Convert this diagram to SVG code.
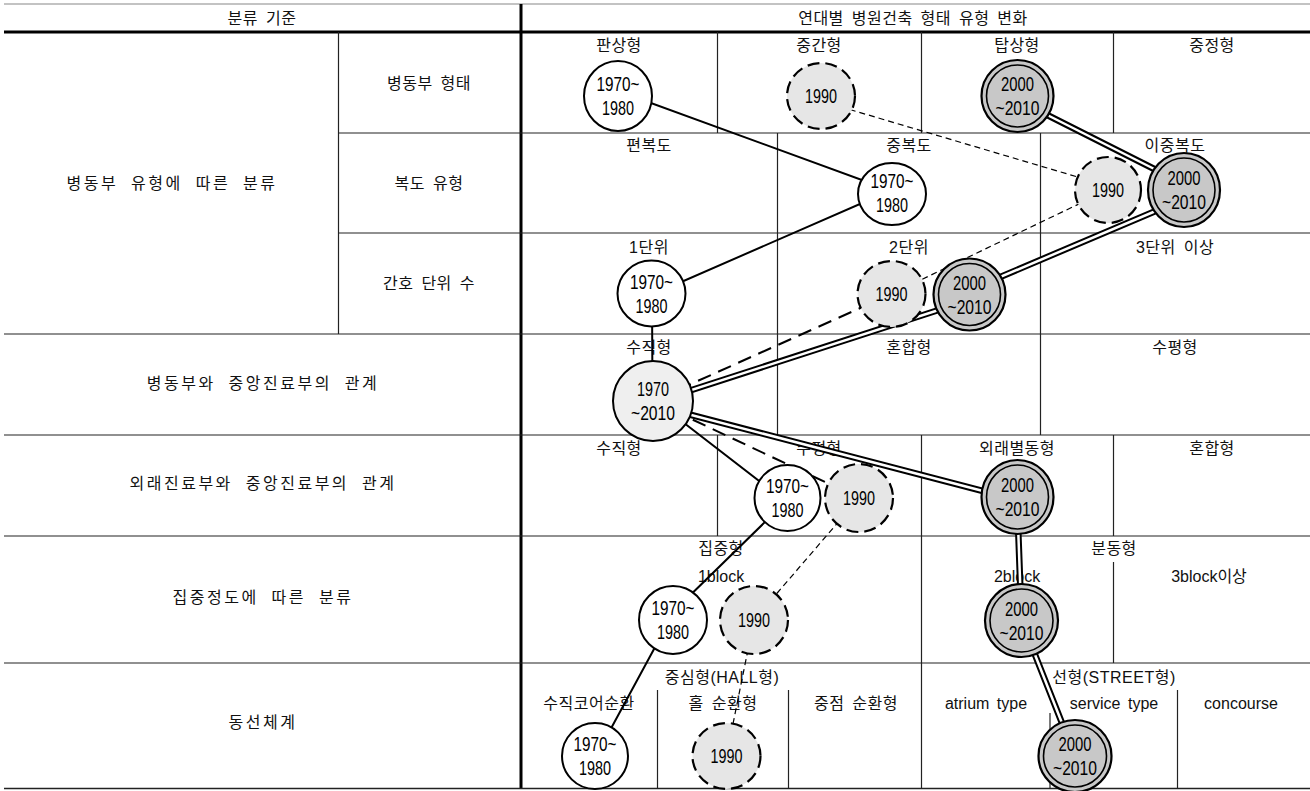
<svg xmlns="http://www.w3.org/2000/svg" width="1310" height="791" viewBox="0 0 1310 791">
<defs>
<style>
.ln{stroke:#222;stroke-width:1.2;fill:none}
.thk{stroke:#000;stroke-width:3;fill:none}
.top{stroke:#888;stroke-width:1.2;fill:none}
text{font-family:"Liberation Sans","Noto Sans CJK KR",sans-serif;fill:#111}
.lbl{font-size:16px;letter-spacing:0.5px;word-spacing:3px;text-anchor:middle}
.en{font-size:16px;letter-spacing:0;word-spacing:3px;text-anchor:middle}
.big{font-size:16px;letter-spacing:2.5px;word-spacing:6px;text-anchor:middle}
.num{font-size:20px;text-anchor:middle;fill:#000}
.solid{stroke:#000;stroke-width:2;fill:none}
.thin-dash{stroke:#000;stroke-width:1.2;stroke-dasharray:6 4;fill:none}
.thick-dash{stroke:#000;stroke-width:2;stroke-dasharray:14 8;fill:none}
.dbl-out{stroke:#000;stroke-width:6.5;fill:none}
.dbl-in{stroke:#fff;stroke-width:2.5;fill:none}
.n-white{fill:#fff;stroke:#000;stroke-width:2}
.n-dash{fill:#e6e6e6;stroke:#000;stroke-width:2.2;stroke-dasharray:12 6}
.n-mid{fill:#efefef;stroke:#000;stroke-width:2}
.n-dbl{fill:#c8c8c8;stroke:#000;stroke-width:2.2}
.n-dbl-in{fill:none;stroke:#000;stroke-width:1.6}
</style>
</defs>
<rect x="0" y="0" width="1310" height="791" fill="#fff"/>
<g id="grid">
<line class="top" x1="4" y1="4" x2="1310" y2="4"/>
<line class="thk" x1="4" y1="32" x2="1310" y2="32"/>
<line class="thk" x1="521" y1="4" x2="521" y2="789"/>
<line class="ln" x1="338.5" y1="32" x2="338.5" y2="334"/>
<line class="ln" x1="338.5" y1="133" x2="1310" y2="133"/>
<line class="ln" x1="338.5" y1="233" x2="1310" y2="233"/>
<line class="ln" x1="4" y1="334" x2="1310" y2="334"/>
<line class="ln" x1="4" y1="435" x2="1310" y2="435"/>
<line class="ln" x1="4" y1="536" x2="1310" y2="536"/>
<line class="ln" x1="4" y1="663" x2="1310" y2="663"/>
<line class="ln" x1="4" y1="788.5" x2="1310" y2="788.5" style="stroke-width:1.6"/>
<line class="ln" x1="717.5" y1="32" x2="717.5" y2="133"/>
<line class="ln" x1="921.5" y1="32" x2="921.5" y2="133"/>
<line class="ln" x1="1113.5" y1="32" x2="1113.5" y2="133"/>
<line class="ln" x1="777.5" y1="133" x2="777.5" y2="435"/>
<line class="ln" x1="1040.5" y1="133" x2="1040.5" y2="435"/>
<line class="ln" x1="717.5" y1="435" x2="717.5" y2="536"/>
<line class="ln" x1="921.5" y1="435" x2="921.5" y2="789"/>
<line class="ln" x1="1113.5" y1="435" x2="1113.5" y2="536"/>
<line class="ln" x1="1113.5" y1="562" x2="1113.5" y2="663"/>
<line class="ln" x1="657.5" y1="690" x2="657.5" y2="789"/>
<line class="ln" x1="788.5" y1="690" x2="788.5" y2="789"/>
<line class="ln" x1="1050" y1="713" x2="1050" y2="789"/>
<line class="ln" x1="1177.5" y1="690" x2="1177.5" y2="789"/>
</g>
<g id="labels">
<text class="lbl" x="262" y="24">분류 기준</text>
<text class="lbl" x="913" y="24">연대별 병원건축 형태 유형 변화</text>
<text class="big" x="172" y="189">병동부 유형에 따른 분류</text>
<text class="lbl" x="429" y="89">병동부 형태</text>
<text class="lbl" x="429" y="189">복도 유형</text>
<text class="lbl" x="429" y="289">간호 단위 수</text>
<text class="big" x="263" y="389">병동부와 중앙진료부의 관계</text>
<text class="big" x="263" y="489">외래진료부와 중앙진료부의 관계</text>
<text class="big" x="263" y="602.5">집중정도에 따른 분류</text>
<text class="big" x="263" y="728">동선체계</text>
<text class="lbl" x="619" y="51">판상형</text>
<text class="lbl" x="819" y="51">중간형</text>
<text class="lbl" x="1017" y="51">탑상형</text>
<text class="lbl" x="1212" y="51">중정형</text>
<text class="lbl" x="649" y="151">편복도</text>
<text class="lbl" x="909" y="151">중복도</text>
<text class="lbl" x="1175" y="151">이중복도</text>
<text class="lbl" x="649" y="252.5">1단위</text>
<text class="lbl" x="909" y="252.5">2단위</text>
<text class="lbl" x="1175" y="252.5">3단위 이상</text>
<text class="lbl" x="649" y="352.5">수직형</text>
<text class="lbl" x="909" y="352.5">혼합형</text>
<text class="lbl" x="1175" y="352.5">수평형</text>
<text class="lbl" x="619" y="454">수직형</text>
<text class="lbl" x="819" y="454">수평형</text>
<text class="lbl" x="1017" y="454">외래별동형</text>
<text class="lbl" x="1212" y="454">혼합형</text>
<text class="lbl" x="721" y="554">집중형</text>
<text class="en" x="721" y="582">1block</text>
<text class="lbl" x="1114" y="554">분동형</text>
<text class="en" x="1017" y="582">2block</text>
<text class="en" x="1209" y="582">3block이상</text>
<text class="lbl" x="722" y="682.5">중심형(HALL형)</text>
<text class="lbl" x="1114" y="682.5">선형(STREET형)</text>
<text class="lbl" x="589" y="709">수직코어순환</text>
<text class="lbl" x="723" y="709">홀 순환형</text>
<text class="lbl" x="856" y="709">중점 순환형</text>
<text class="en" x="986" y="709">atrium type</text>
<text class="en" x="1114" y="709">service type</text>
<text class="en" x="1241" y="709">concourse</text>
</g>
<g id="connectors">
<path class="solid" d="M618,91 L892,191 M892,190 L651.5,295 M652,294 L652.5,401 M653,399 L787.5,503 M787.5,500 L673,612 M673,614 L595,758"/>
<path class="thin-dash" d="M821,101 L1108,186 M1108,190 L891.5,294 M859,498 L754,620 M754,620 L726.5,756"/>
<path class="thick-dash" d="M891.5,294 L653,401 M653,401 L859,498"/>
<path class="dbl-out" d="M1017.5,100 L1184,184 M1184,199 L969.5,290 M969.5,300 L653,402.5 M653,405 L1017.5,500 M1017,497 L1021.5,620 M1021.5,620.5 L1075,756"/>
<path class="dbl-in" d="M1017.5,100 L1184,184 M1184,199 L969.5,290 M969.5,300 L653,402.5 M653,405 L1017.5,500 M1017,497 L1021.5,620 M1021.5,620.5 L1075,756"/>
</g>
<g id="n1"><ellipse class="n-white" cx="618" cy="96" rx="34" ry="35"/><text class="num" x="618" y="91" textLength="43" lengthAdjust="spacingAndGlyphs">1970~</text><text class="num" x="618" y="115" textLength="32" lengthAdjust="spacingAndGlyphs">1980</text></g>
<g id="n2"><ellipse class="n-dash" cx="821" cy="96" rx="34" ry="33"/><text class="num" x="821" y="103" textLength="32" lengthAdjust="spacingAndGlyphs">1990</text></g>
<g id="n3"><ellipse class="n-dbl" cx="1017.5" cy="96" rx="36" ry="36"/><ellipse class="n-dbl-in" cx="1017.5" cy="96" rx="31" ry="31"/><text class="num" x="1017.5" y="91" textLength="33" lengthAdjust="spacingAndGlyphs">2000</text><text class="num" x="1017.5" y="115" textLength="44" lengthAdjust="spacingAndGlyphs">~2010</text></g>
<g id="n4"><ellipse class="n-dash" cx="1108" cy="190" rx="33" ry="33"/><text class="num" x="1108" y="197" textLength="32" lengthAdjust="spacingAndGlyphs">1990</text></g>
<g id="n5"><ellipse class="n-dbl" cx="1184" cy="190" rx="36" ry="37"/><ellipse class="n-dbl-in" cx="1184" cy="190" rx="31" ry="32"/><text class="num" x="1184" y="185" textLength="33" lengthAdjust="spacingAndGlyphs">2000</text><text class="num" x="1184" y="209" textLength="44" lengthAdjust="spacingAndGlyphs">~2010</text></g>
<g id="n6"><ellipse class="n-white" cx="892" cy="194" rx="34" ry="31"/><text class="num" x="892" y="188" textLength="43" lengthAdjust="spacingAndGlyphs">1970~</text><text class="num" x="892" y="212" textLength="32" lengthAdjust="spacingAndGlyphs">1980</text></g>
<g id="n7"><ellipse class="n-white" cx="651.5" cy="293.5" rx="34" ry="33"/><text class="num" x="651.5" y="288.5" textLength="43" lengthAdjust="spacingAndGlyphs">1970~</text><text class="num" x="651.5" y="312.5" textLength="32" lengthAdjust="spacingAndGlyphs">1980</text></g>
<g id="n8"><ellipse class="n-dash" cx="891.5" cy="294" rx="34" ry="33"/><text class="num" x="891.5" y="301" textLength="32" lengthAdjust="spacingAndGlyphs">1990</text></g>
<g id="n9"><ellipse class="n-dbl" cx="969.5" cy="294.5" rx="36" ry="36"/><ellipse class="n-dbl-in" cx="969.5" cy="294.5" rx="31" ry="31"/><text class="num" x="969.5" y="289.5" textLength="33" lengthAdjust="spacingAndGlyphs">2000</text><text class="num" x="969.5" y="313.5" textLength="44" lengthAdjust="spacingAndGlyphs">~2010</text></g>
<g id="n10"><ellipse class="n-mid" cx="653" cy="401" rx="40" ry="40"/><text class="num" x="653" y="396" textLength="32" lengthAdjust="spacingAndGlyphs">1970</text><text class="num" x="653" y="420" textLength="44" lengthAdjust="spacingAndGlyphs">~2010</text></g>
<g id="n11"><ellipse class="n-white" cx="787.5" cy="498" rx="33" ry="33"/><text class="num" x="787.5" y="493" textLength="43" lengthAdjust="spacingAndGlyphs">1970~</text><text class="num" x="787.5" y="517" textLength="32" lengthAdjust="spacingAndGlyphs">1980</text></g>
<g id="n12"><ellipse class="n-dash" cx="859" cy="498" rx="34" ry="34"/><text class="num" x="859" y="505" textLength="32" lengthAdjust="spacingAndGlyphs">1990</text></g>
<g id="n13"><ellipse class="n-dbl" cx="1017.5" cy="497" rx="36" ry="37"/><ellipse class="n-dbl-in" cx="1017.5" cy="497" rx="31" ry="32"/><text class="num" x="1017.5" y="492" textLength="33" lengthAdjust="spacingAndGlyphs">2000</text><text class="num" x="1017.5" y="516" textLength="44" lengthAdjust="spacingAndGlyphs">~2010</text></g>
<g id="n14"><ellipse class="n-white" cx="673" cy="620" rx="34" ry="34"/><text class="num" x="673" y="615" textLength="43" lengthAdjust="spacingAndGlyphs">1970~</text><text class="num" x="673" y="639" textLength="32" lengthAdjust="spacingAndGlyphs">1980</text></g>
<g id="n15"><ellipse class="n-dash" cx="754" cy="620" rx="34" ry="34"/><text class="num" x="754" y="627" textLength="32" lengthAdjust="spacingAndGlyphs">1990</text></g>
<g id="n18"><ellipse class="n-dbl" cx="1021.5" cy="620.5" rx="36.5" ry="36.5"/><ellipse class="n-dbl-in" cx="1021.5" cy="620.5" rx="31.5" ry="31.5"/><text class="num" x="1021.5" y="615.5" textLength="33" lengthAdjust="spacingAndGlyphs">2000</text><text class="num" x="1021.5" y="639.5" textLength="44" lengthAdjust="spacingAndGlyphs">~2010</text></g>
<g id="n16"><ellipse class="n-white" cx="595" cy="756" rx="33" ry="33"/><text class="num" x="595" y="751" textLength="43" lengthAdjust="spacingAndGlyphs">1970~</text><text class="num" x="595" y="775" textLength="32" lengthAdjust="spacingAndGlyphs">1980</text></g>
<g id="n17"><ellipse class="n-dash" cx="726.5" cy="756" rx="34" ry="33"/><text class="num" x="726.5" y="763" textLength="32" lengthAdjust="spacingAndGlyphs">1990</text></g>
<g id="n19"><ellipse class="n-dbl" cx="1075" cy="756" rx="36.5" ry="36"/><ellipse class="n-dbl-in" cx="1075" cy="756" rx="31.5" ry="31"/><text class="num" x="1075" y="751" textLength="33" lengthAdjust="spacingAndGlyphs">2000</text><text class="num" x="1075" y="775" textLength="44" lengthAdjust="spacingAndGlyphs">~2010</text></g>
</svg>
